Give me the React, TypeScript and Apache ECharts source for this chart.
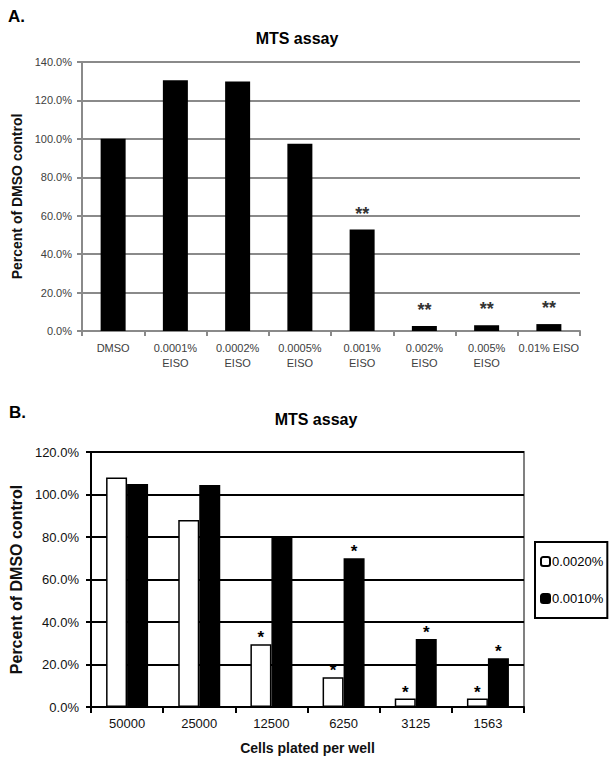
import React, { useEffect, useRef } from "react";
import * as echarts from "echarts";

const FONT = "'Liberation Sans', Arial, sans-serif";

// Panel A
const catsA = [
  "DMSO",
  "0.0001%\nEISO",
  "0.0002%\nEISO",
  "0.0005%\nEISO",
  "0.001%\nEISO",
  "0.002%\nEISO",
  "0.005%\nEISO",
  "0.01% EISO",
];
const valuesA = [100, 130.5, 129.8, 97.5, 52.8, 2.6, 3.0, 3.6];
const starsA = ["", "", "", "", "**", "**", "**", "**"];

// Panel B
const catsB = ["50000", "25000", "12500", "6250", "3125", "1563"];
const seriesBNames = ["0.0020%", "0.0010%"];
const valuesB1 = [108, 88, 29.5, 14, 4, 4];
const valuesB2 = [105, 104.5, 80, 70, 32, 23];
const starsB1 = ["", "", "*", "*", "*", "*"];
const starsB2 = ["", "", "", "*", "*", "*"];

export default function App() {
  const ref = useRef<HTMLDivElement>(null);
  useEffect(() => {
    if (!ref.current) return;
    const chart = echarts.init(ref.current, null, { renderer: "svg" });
    const pct = (v: number) => v.toFixed(1) + "%";
    chart.setOption({
      animation: false,
      backgroundColor: "#fff",
      textStyle: { fontFamily: FONT },
      grid: [
        { left: 82, right: 35, top: 62, height: 269, containLabel: false },
        {
          left: 81,
          right: 91,
          top: 452,
          height: 255,
          show: true,
          borderColor: "#808080",
          borderWidth: 2,
          backgroundColor: "transparent",
        },
      ],
      legend: {
        data: seriesBNames,
        orient: "vertical",
        left: 535,
        top: 542,
        width: 70,
        itemWidth: 9,
        itemHeight: 9,
        itemGap: 24,
        padding: [13, 4, 13, 5],
        borderColor: "#000",
        borderWidth: 2,
        textStyle: { fontSize: 13, color: "#000", fontFamily: FONT, padding: [0, 0, 0, -3] },
      },
      xAxis: [
        {
          type: "category",
          gridIndex: 0,
          data: catsA,
          axisLine: { lineStyle: { color: "#8a8a8a", width: 2 } },
          axisTick: { show: true, length: 5, lineStyle: { color: "#8a8a8a", width: 2 } },
          axisLabel: { interval: 0, color: "#404040", fontSize: 11, lineHeight: 15, margin: 9, fontFamily: FONT },
        },
        {
          type: "category",
          gridIndex: 1,
          data: catsB,
          name: "Cells plated per well",
          nameLocation: "middle",
          nameGap: 34,
          nameTextStyle: { fontSize: 14, fontWeight: "bold", color: "#111", fontFamily: FONT },
          axisLine: { lineStyle: { color: "#000", width: 2 } },
          axisTick: { show: true, length: 6, lineStyle: { color: "#000", width: 2 } },
          axisLabel: { interval: 0, color: "#111", fontSize: 13, margin: 10, fontFamily: FONT },
        },
      ],
      yAxis: [
        {
          type: "value",
          gridIndex: 0,
          min: 0,
          max: 140,
          interval: 20,
          name: "Percent of DMSO control",
          nameLocation: "middle",
          nameGap: 53,
          nameRotate: 90,
          nameTextStyle: { fontSize: 14, fontWeight: "bold", color: "#111", fontFamily: FONT },
          axisLine: { show: true, lineStyle: { color: "#8a8a8a", width: 2 } },
          axisTick: { show: true, length: 5, lineStyle: { color: "#8a8a8a", width: 2 } },
          axisLabel: { formatter: pct, color: "#404040", fontSize: 11, margin: 10, fontFamily: FONT },
          splitLine: { show: true, lineStyle: { color: "#8a8a8a", width: 2 } },
        },
        {
          type: "value",
          gridIndex: 1,
          min: 0,
          max: 120,
          interval: 20,
          name: "Percent of DMSO control",
          nameLocation: "middle",
          nameGap: 57,
          nameRotate: 90,
          nameTextStyle: { fontSize: 16, fontWeight: "bold", color: "#111", fontFamily: FONT },
          axisLine: { show: true, lineStyle: { color: "#000", width: 2 } },
          axisTick: { show: true, length: 5, lineStyle: { color: "#000", width: 2 } },
          axisLabel: { formatter: pct, color: "#111", fontSize: 13, margin: 12, fontFamily: FONT },
          splitLine: { show: true, lineStyle: { color: "#000", width: 2 } },
        },
      ],
      graphic: [
        { type: "text", left: 8, top: 8, style: { text: "A.", font: `bold 17px ${FONT}`, fill: "#000" } },
        {
          type: "text",
          x: 297,
          y: 38,
          style: { text: "MTS assay", font: `bold 16px ${FONT}`, fill: "#000", align: "center", verticalAlign: "middle" },
        },
        { type: "text", left: 9, top: 404, style: { text: "B.", font: `bold 17px ${FONT}`, fill: "#000" } },
        {
          type: "text",
          x: 316,
          y: 419,
          style: { text: "MTS assay", font: `bold 16px ${FONT}`, fill: "#000", align: "center", verticalAlign: "middle" },
        },
      ],
      series: [
        {
          type: "bar",
          xAxisIndex: 0,
          yAxisIndex: 0,
          data: valuesA,
          barWidth: 25,
          itemStyle: { color: "#000" },
          label: {
            show: true,
            position: "top",
            distance: 7,
            formatter: (p: any) => starsA[p.dataIndex],
            fontSize: 18,
            fontWeight: "bold",
            color: "#333",
            fontFamily: FONT,
          },
        },
        {
          type: "bar",
          name: seriesBNames[0],
          xAxisIndex: 1,
          yAxisIndex: 1,
          data: valuesB1,
          barWidth: 21,
          barGap: "0%",
          itemStyle: { color: "#fff", borderColor: "#000", borderWidth: 1.5 },
          label: {
            show: true,
            position: "top",
            distance: -2,
            formatter: (p: any) => starsB1[p.dataIndex],
            fontSize: 17,
            fontWeight: "bold",
            color: "#000",
            fontFamily: FONT,
          },
        },
        {
          type: "bar",
          name: seriesBNames[1],
          xAxisIndex: 1,
          yAxisIndex: 1,
          data: valuesB2,
          barWidth: 21,
          barGap: "0%",
          itemStyle: { color: "#000", borderColor: "#000", borderWidth: 1.5 },
          label: {
            show: true,
            position: "top",
            distance: -2,
            formatter: (p: any) => starsB2[p.dataIndex],
            fontSize: 17,
            fontWeight: "bold",
            color: "#000",
            fontFamily: FONT,
          },
        },
      ],
    });
    return () => chart.dispose();
  }, []);
  return (
    <div
      ref={ref}
      style={{ position: "fixed", left: 0, top: 0, width: 615, height: 761, background: "#fff" }}
    />
  );
}
